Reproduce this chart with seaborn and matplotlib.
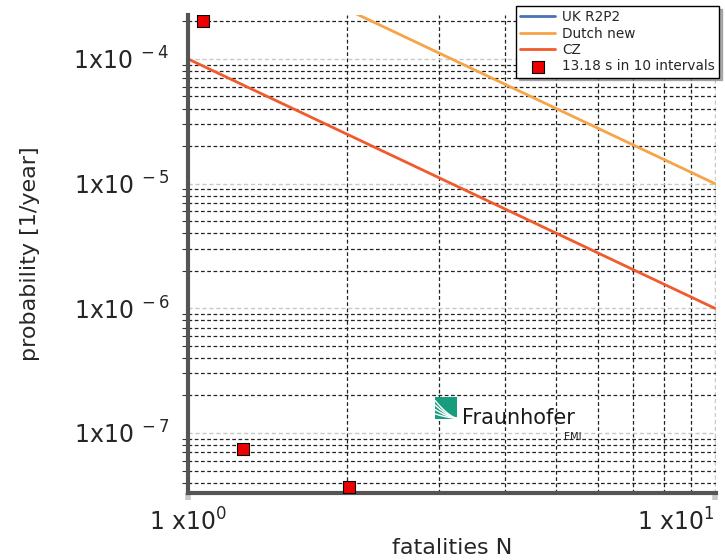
import numpy as np
import pandas as pd
import matplotlib
matplotlib.use("Agg")
import matplotlib.pyplot as plt
import seaborn as sns
from matplotlib.ticker import FixedLocator, NullFormatter

# Criterion lines (N, probability per year)
uk_n = [1, 10]
uk_p = [1e-2, 1e-3]
dutch_n = [1, 10]
dutch_p = [1e-3, 1e-5]
cz_n = [1, 10]
cz_p = [1e-4, 1e-6]

# Measured points
pts_n = [1.07, 1.27, 2.02]
pts_p = [2.0e-4, 7.4e-8, 3.7e-8]
pts_label = "13.18 s in 10 intervals"

series_names = ["UK R2P2", "Dutch new", "CZ"]
series_colors = ["#4a72b8", "#f7a347", "#f15a2b"]

lines = pd.concat([
    pd.DataFrame({"N": uk_n, "p": uk_p, "curve": "UK R2P2"}),
    pd.DataFrame({"N": dutch_n, "p": dutch_p, "curve": "Dutch new"}),
    pd.DataFrame({"N": cz_n, "p": cz_p, "curve": "CZ"}),
])
points = pd.DataFrame({"N": pts_n, "p": pts_p})

sns.set_style("white")
plt.rcParams["font.family"] = ["DejaVu Sans"]

fig = plt.figure(figsize=(7.25, 5.6), dpi=100)
ax = fig.add_axes([0.2593, 0.1196, 0.7283, 0.8536])
ax.set_xscale("log")
ax.set_yscale("log")

sns.lineplot(data=lines, x="N", y="p", hue="curve", hue_order=series_names,
             palette=series_colors, linewidth=2, ax=ax)
sns.scatterplot(data=points, x="N", y="p", marker="s", s=70, color="#ee0000",
                edgecolor="black", linewidth=0.8, label=pts_label, ax=ax, zorder=5)

ax.set_xlim(1, 10.05)
ax.set_ylim(3.3e-8, 2.25e-4)

# grid: major light gray, minor black dashed
ax.set_xticks([1, 10])
ax.set_xticklabels([r"1 x10$^{0}$", r"1 x10$^{1}$"], fontsize=17)
ax.get_xticklabels()[1].set_horizontalalignment("right")
ax.xaxis.set_minor_locator(FixedLocator([2, 3, 4, 5, 6, 7, 8, 9]))
ax.xaxis.set_minor_formatter(NullFormatter())

yt = [1e-7, 1e-6, 1e-5, 1e-4]
ax.set_yticks(yt)
ax.set_yticklabels([r"1x10$^{\ -7}$", r"1x10$^{\ -6}$", r"1x10$^{\ -5}$", r"1x10$^{\ -4}$"],
                   fontsize=17)
ymin = [m * 10.0 ** e for e in range(-8, -3) for m in range(2, 10)]
ax.yaxis.set_minor_locator(FixedLocator(ymin))
ax.yaxis.set_minor_formatter(NullFormatter())

ax.grid(True, which="major", color="#c8c8c8", linestyle=(0, (3, 2)), linewidth=1.0)
ax.grid(True, which="minor", color="#222222", linestyle=(0, (3, 2)), linewidth=0.9)
ax.set_axisbelow(True)

ax.tick_params(axis="y", which="major", length=5, width=4, color="#b0b0b0", pad=8)
ax.tick_params(axis="y", which="minor", length=4, width=0.8, color="#333333", left=True)
ax.tick_params(axis="x", which="major", length=5, width=4, color="#c8c8c8", pad=6, bottom=True)
ax.tick_params(axis="x", which="minor", length=0)

for side in ["top", "right"]:
    ax.spines[side].set_visible(False)
for side in ["left", "bottom"]:
    ax.spines[side].set_color("#555555")
    ax.spines[side].set_linewidth(3)

ax.set_xlabel("fatalities N", fontsize=16, labelpad=2)
ax.set_ylabel("probability [1/year]", fontsize=16, labelpad=24)

leg = ax.legend(loc="upper right", bbox_to_anchor=(719 / 725, 1 - 6 / 560),
                bbox_transform=fig.transFigure, fontsize=9.8, frameon=True,
                fancybox=False, shadow={"color": "0.55", "alpha": 0.7},
                handlelength=2.6, borderpad=0.3, labelspacing=0.18,
                handletextpad=0.5, borderaxespad=0)
leg.get_frame().set_edgecolor("black")
leg.get_frame().set_linewidth(1.0)

# Fraunhofer EMI logo
lax = fig.add_axes([0.600, 0.251, 0.031, 0.040])
lax.set_facecolor("#179c7d")
lax.set_xlim(0, 1)
lax.set_ylim(0, 1)
lax.set_xticks([])
lax.set_yticks([])
for s in lax.spines.values():
    s.set_visible(False)
t = np.linspace(0, 1, 30)
for k in [0.25, 0.45, 0.65, 0.85]:
    lax.plot(t, k * (1 - t) ** 1.5 + 0.05 * t, color="white", linewidth=1.0)
fig.text(0.637, 0.242, "Fraunhofer", fontsize=15, color="#1a1a1a")
fig.text(0.778, 0.215, "EMI", fontsize=7, color="#1a1a1a")

plt.savefig("out.png", dpi=100)
